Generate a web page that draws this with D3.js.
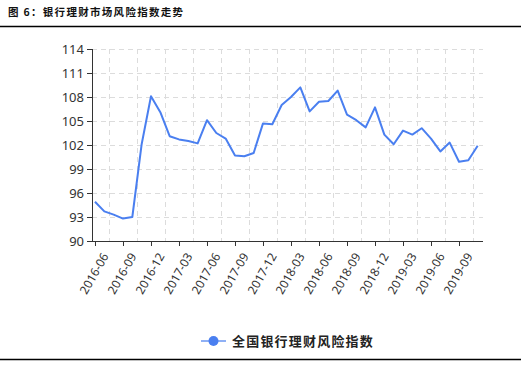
<!DOCTYPE html>
<html>
<head>
<meta charset="utf-8">
<script src="https://cdn.jsdelivr.net/npm/d3@7"></script>
<style>
    body { margin: 0; background: #fff; }
    svg { display: block; }
</style>
</head>
<body>
<svg id="chart"></svg>
<script>
// months on the category axis, one per data point
const months = [
    "2016-06", "2016-07", "2016-08", "2016-09", "2016-10", "2016-11", "2016-12",
    "2017-01", "2017-02", "2017-03", "2017-04", "2017-05", "2017-06", "2017-07",
    "2017-08", "2017-09", "2017-10", "2017-11", "2017-12", "2018-01", "2018-02",
    "2018-03", "2018-04", "2018-05", "2018-06", "2018-07", "2018-08", "2018-09",
    "2018-10", "2018-11", "2018-12", "2019-01", "2019-02", "2019-03", "2019-04",
    "2019-05", "2019-06", "2019-07", "2019-08", "2019-09", "2019-10", "2019-11"
];

// 全国银行理财风险指数
const riskIndex = [
    94.9, 93.7, 93.3, 92.8, 93.0, 102.1, 108.1,
    106.1, 103.1, 102.7, 102.5, 102.2, 105.1, 103.5,
    102.8, 100.7, 100.6, 101.0, 104.7, 104.6, 107.0,
    108.0, 109.2, 106.2, 107.4, 107.5, 108.8, 105.8,
    105.1, 104.2, 106.7, 103.3, 102.1, 103.8, 103.3,
    104.1, 102.8, 101.2, 102.3, 99.9, 100.1, 101.9
];

const xTickLabels = [
    "2016-06", "2016-09", "2016-12", "2017-03", "2017-06", "2017-09", "2017-12",
    "2018-03", "2018-06", "2018-09", "2018-12", "2019-03", "2019-06", "2019-09"
];
const yTicks = [90, 93, 96, 99, 102, 105, 108, 111, 114];

const title = "图 6：银行理财市场风险指数走势";
const seriesName = "全国银行理财风险指数";

const width = 521, height = 377;
const plot = { left: 92, right: 483, top: 49, bottom: 241 };
const lineColor = "#4a7ff0";

const svg = d3.select("#chart")
    .attr("width", width)
    .attr("height", height);

// title and rules
svg.append("text")
    .attr("x", 8)
    .attr("y", 16)
    .attr("font-family", "Noto Sans CJK SC")
    .attr("font-weight", "bold")
    .attr("font-size", 10.5)
    .attr("letter-spacing", 1.3)
    .attr("fill", "#111")
    .text(title);

svg.append("line")
    .attr("x1", 0).attr("x2", width)
    .attr("y1", 26.5).attr("y2", 26.5)
    .attr("stroke", "#000").attr("stroke-width", 1.5);

svg.append("line")
    .attr("x1", 0).attr("x2", width)
    .attr("y1", 359.5).attr("y2", 359.5)
    .attr("stroke", "#000").attr("stroke-width", 1.5);

// scales
let x = d3.scaleLinear()
    .domain([-0.32, months.length - 1 + 0.57])
    .range([plot.left, plot.right]);

let y = d3.scaleLinear()
    .domain([90, 114])
    .range([plot.bottom, plot.top]);

let tickIdx = xTickLabels.map(m => months.indexOf(m));

// grid
let grid = svg.append("g")
    .attr("stroke", "#dcdcdc")
    .attr("stroke-dasharray", "5,4");

grid.selectAll(".hgrid")
    .data(yTicks.filter(v => v > 90))
    .join("line")
    .attr("x1", plot.left).attr("x2", plot.right)
    .attr("y1", d => Math.round(y(d)) + 0.5)
    .attr("y2", d => Math.round(y(d)) + 0.5);

grid.selectAll(".vgrid")
    .data(tickIdx)
    .join("line")
    .attr("x1", d => Math.round(x(d + 1.5)) + 0.5)
    .attr("x2", d => Math.round(x(d + 1.5)) + 0.5)
    .attr("y1", plot.top).attr("y2", plot.bottom);

// axes
let yAxis = g => g
    .attr("transform", `translate(${plot.left},0)`)
    .call(d3.axisLeft(y).tickValues(yTicks).tickSize(5).tickPadding(3))
    .call(g => g.select(".domain").attr("stroke", "#333").attr("d", `M0.5,${plot.top}V${plot.bottom}`))
    .call(g => g.selectAll(".tick line").attr("stroke", "#333"))
    .call(g => g.selectAll(".tick text")
        .attr("font-family", "Noto Sans")
        .attr("font-size", 13)
        .attr("fill", "#333"));

let xAxis = g => g
    .attr("transform", `translate(0,${plot.bottom})`)
    .call(d3.axisBottom(x).tickValues(tickIdx).tickSize(5)
        .tickFormat((d, i) => xTickLabels[i]))
    .call(g => g.select(".domain").attr("stroke", "#333").attr("d", `M${plot.left},0.5H${plot.right}`))
    .call(g => g.selectAll(".tick line").attr("stroke", "#333"))
    .call(g => g.selectAll(".tick text")
        .attr("font-family", "Noto Sans")
        .attr("font-size", 12)
        .attr("fill", "#333")
        .attr("text-anchor", "end")
        .attr("dy", "0.35em")
        .attr("transform", "translate(3,9) rotate(-60)"));

svg.append("g").call(yAxis);
svg.append("g").call(xAxis);

// series line
let line = d3.line()
    .x((d, i) => x(i))
    .y(d => y(d));

svg.append("path")
    .datum(riskIndex)
    .attr("fill", "none")
    .attr("stroke", lineColor)
    .attr("stroke-width", 2)
    .attr("stroke-linejoin", "round")
    .attr("d", line);

// legend
let legend = svg.append("g").attr("transform", "translate(201,341)");
legend.append("line")
    .attr("x1", 0).attr("x2", 25)
    .attr("stroke", "#8fb0f5").attr("stroke-width", 2);
legend.append("circle")
    .attr("cx", 12.5).attr("r", 5)
    .attr("fill", lineColor);
legend.append("text")
    .attr("x", 31)
    .attr("dy", "0.36em")
    .attr("font-family", "Noto Sans CJK SC")
    .attr("font-weight", "bold")
    .attr("font-size", 13)
    .attr("letter-spacing", 1.2)
    .attr("fill", "#222")
    .text(seriesName);
</script>
</body>
</html>
